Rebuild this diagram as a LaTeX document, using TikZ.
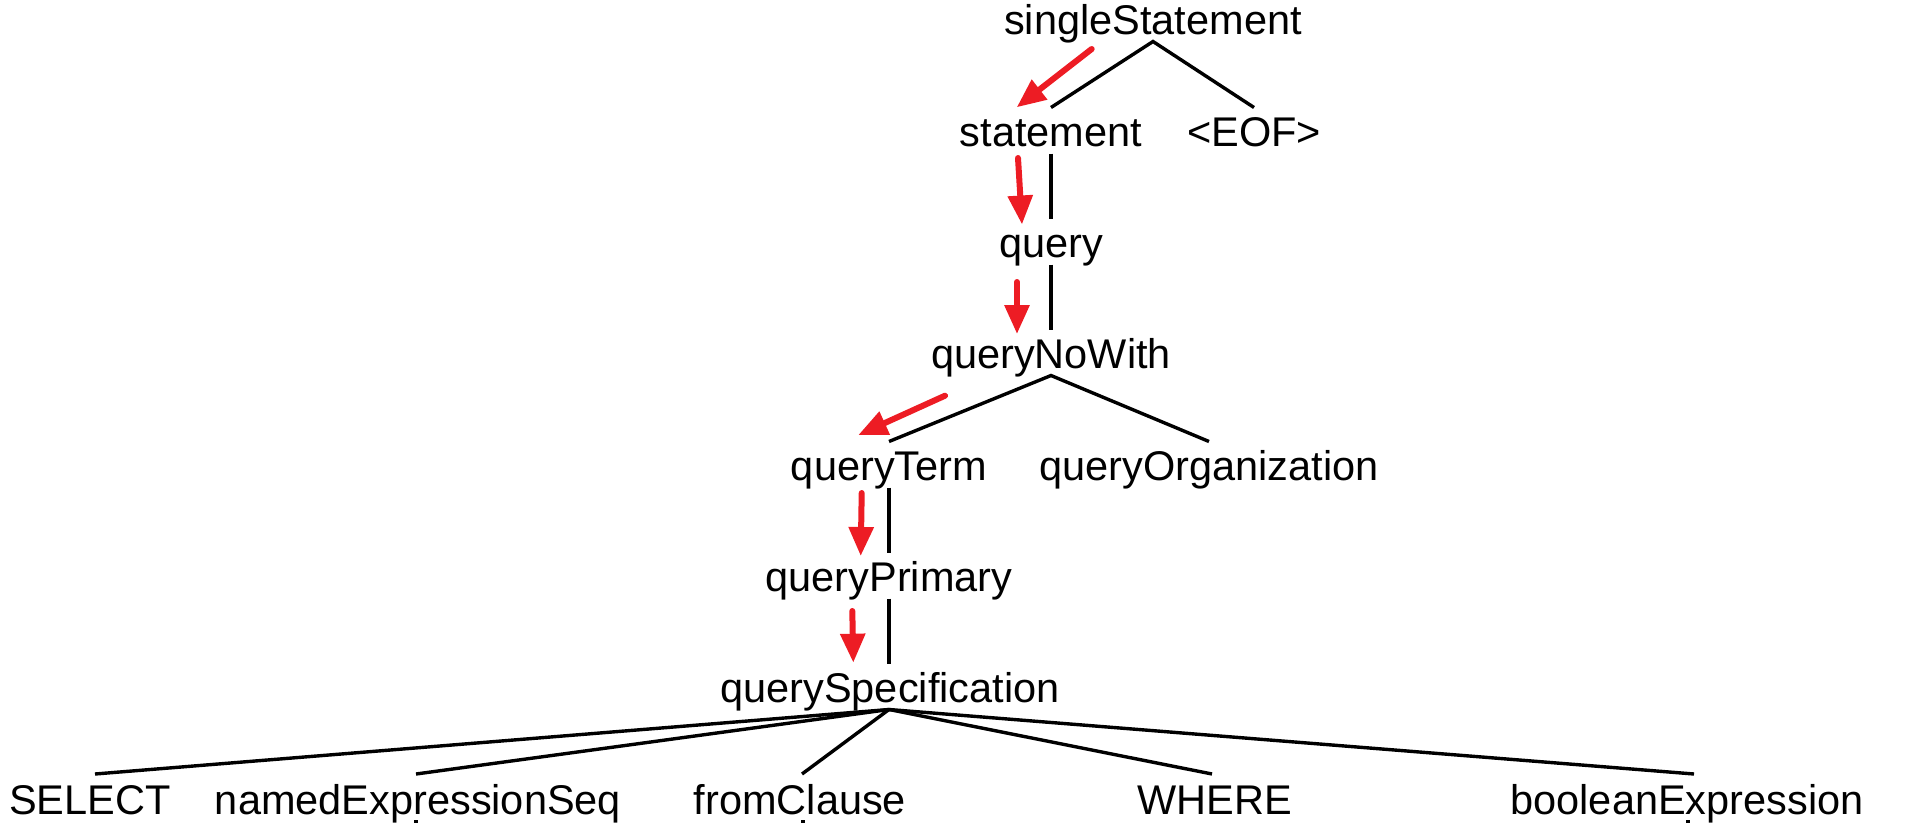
\documentclass[tikz,border=0pt]{standalone}
\usepackage{fontspec}
\setmainfont{Liberation Sans}
\usetikzlibrary{arrows.meta}
\definecolor{arrowred}{RGB}{237,28,36}
\begin{document}
\begin{tikzpicture}[x=1pt,y=-1pt,
  lbl/.style={anchor=base,inner sep=0pt,font=\fontsize{41.5}{48}\selectfont},
  edge/.style={line width=3.4pt,black},
  hint/.style={line width=6pt,arrowred,line cap=round,-{Triangle[length=29pt,width=24pt]}}]
\useasboundingbox (0,0) rectangle (1924,822);
\clip (0,0) rectangle (1924,822);
% nodes
\node[lbl] (ss)  at (1153,34)  {singleStatement};
\node[lbl] (st)  at (1051,146) {statement};
\node[lbl] (eof) at (1254,146) {<EOF>};
\node[lbl] (q)   at (1051,257) {query};
\node[lbl] (qnw) at (1051,368) {queryNoWith};
\node[lbl] (qt)  at (889,480)  {queryTerm};
\node[lbl] (qo)  at (1209,480) {queryOrganization};
\node[lbl] (qp)  at (889,591)  {queryPrimary};
\node[lbl] (qs)  at (890,702)  {querySpecification};
\node[lbl] (sel) at (90,814)   {SELECT};
\node[lbl] (nes) at (418,814)  {namedExpressionSeq};
\node[lbl] (fc)  at (800,814)  {fromClause};
\node[lbl] (wh)  at (1215,814) {WHERE};
\node[lbl] (be)  at (1687,814) {booleanExpression};
% tree edges
\draw[edge] ([shift={(0,-38.5)}]st.base) -- ([shift={(0,7.5)}]ss.base) -- ([shift={(0,-38.5)}]eof.base);
\draw[edge] ([shift={(0,7.5)}]st.base) -- ([shift={(0,-38.5)}]q.base);
\draw[edge] ([shift={(0,7.5)}]q.base) -- ([shift={(0,-38.5)}]qnw.base);
\draw[edge] ([shift={(0,-38.5)}]qt.base) -- ([shift={(0,7.5)}]qnw.base) -- ([shift={(0,-38.5)}]qo.base);
\draw[edge] ([shift={(0,7.5)}]qt.base) -- ([shift={(0,-38.5)}]qp.base);
\draw[edge] ([shift={(0,7.5)}]qp.base) -- ([shift={(-1,-38.5)}]qs.base);
\draw[edge] ([shift={(5,-40)}]sel.base) -- ([shift={(-1,7.5)}]qs.base);
\draw[edge] ([shift={(-2,-40)}]nes.base) -- ([shift={(-1,7.5)}]qs.base);
\draw[edge] ([shift={(2,-40)}]fc.base) -- ([shift={(-1,7.5)}]qs.base);
\draw[edge] ([shift={(-3,-40)}]wh.base) -- ([shift={(-1,7.5)}]qs.base);
\draw[edge] ([shift={(7,-40)}]be.base) -- ([shift={(-1,7.5)}]qs.base);
% stubs of edges to lower (cut off) levels
\draw[edge] ([shift={(-2,6)}]nes.base) -- ([shift={(-2,30)}]nes.base);
\draw[edge] ([shift={(3,6)}]fc.base) -- ([shift={(3,30)}]fc.base);
\draw[edge] ([shift={(1,6)}]be.base) -- ([shift={(1,30)}]be.base);
% red derivation arrows
\draw[hint] ([shift={(-61.3,15)}]ss.base) -- ([shift={(-34.3,-38.7)}]st.base);
\draw[hint] ([shift={(-33,12)}]st.base) -- ([shift={(-29,-32.5)}]q.base);
\draw[hint] ([shift={(-34,25)}]q.base) -- ([shift={(-34,-34)}]qnw.base);
\draw[hint] ([shift={(-106,27.7)}]qnw.base) -- ([shift={(-30.7,-45)}]qt.base);
\draw[hint] ([shift={(-27.3,13)}]qt.base) -- ([shift={(-28.3,-35)}]qp.base);
\draw[hint] ([shift={(-36.7,20)}]qp.base) -- ([shift={(-36.7,-39.3)}]qs.base);
\end{tikzpicture}
\end{document}
